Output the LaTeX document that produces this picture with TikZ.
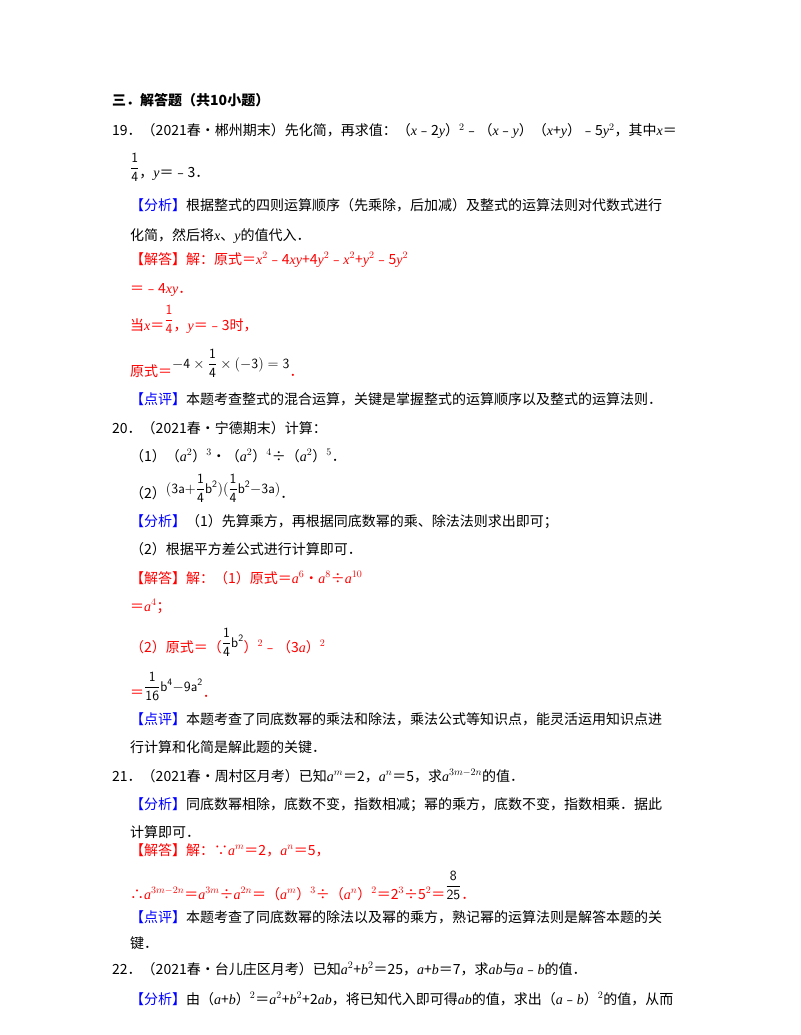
\documentclass[tikz,border=0pt]{standalone}
\usepackage{fontspec}
\setmainfont{Noto Sans CJK SC}
\newfontfamily\serifm{Liberation Serif}
\definecolor{bl}{RGB}{0,0,255}
\definecolor{rd}{RGB}{255,0,0}
\newcommand{\tl}[3]{\node[anchor=base west,inner sep=0pt] (n#1) at (#2pt,-#1pt) {#3};}
\newcommand{\va}[1]{{\serifm\itshape #1}}
\newcommand{\fx}{\textcolor{bl}{【分析】}}
\newcommand{\mydp}{\textcolor{bl}{【点评】}}
\newcommand{\fr}[2]{$\displaystyle\frac{\mathsf{#1}}{\mathsf{#2}}$}
\begin{document}
\begin{tikzpicture}[x=1pt,y=1pt,font=\fontsize{14}{16}\selectfont]
\useasboundingbox (0,0) rectangle (800,-1035);
\tl{106}{112}{\textbf{三．解答题（共10小题）}}
\tl{136}{112}{19．（2021春•郴州期末）先化简，再求值：（\va{x}﹣2\va{y}）$^{2}$﹣（\va{x}﹣\va{y}）（\va{x}+\va{y}）﹣5\va{y}$^2$，其中\va{x}＝}
\tl{178}{130}{\raisebox{6pt}{\fr{1}{4}}，\va{y}＝﹣3．}
\tl{210}{130}{\fx 根据整式的四则运算顺序（先乘除，后加减）及整式的运算法则对代数式进行}
\tl{240}{130}{化简，然后将\va{x}、\va{y}的值代入．}
\tl{264}{130}{\textcolor{rd}{【解答】解：原式＝\va{x}$^2$﹣4\va{xy}+4\va{y}$^2$﹣\va{x}$^2$+\va{y}$^2$﹣5\va{y}$^2$}}
\tl{293}{130}{\textcolor{rd}{＝﹣4\va{xy}．}}
\tl{330}{130}{\textcolor{rd}{当\va{x}＝\raisebox{6pt}{\fr{1}{4}}，\va{y}＝﹣3时，}}
\tl{376}{130}{\textcolor{rd}{原式＝}\raisebox{8pt}{$\mathsf{-4\times\displaystyle\frac{1}{4}\times(-3)=3}$}\textcolor{rd}{．}}
\tl{404}{130}{\mydp 本题考查整式的混合运算，关键是掌握整式的运算顺序以及整式的运算法则．}
\tl{433}{112}{20．（2021春•宁德期末）计算：}
\tl{461}{130}{（1）（\va{a}$^2$）$^3$•（\va{a}$^2$）$^4$÷（\va{a}$^2$）$^5$．}
\tl{498}{130}{（2）\raisebox{5pt}{$\displaystyle\mathsf{(3a{+}\frac{1}{4}b^2)(\frac{1}{4}b^2{-}3a)}$}．}
\tl{526}{130}{\fx（1）先算乘方，再根据同底数幂的乘、除法法则求出即可；}
\tl{554}{130}{（2）根据平方差公式进行计算即可．}
\tl{583}{130}{\textcolor{rd}{【解答】解：（1）原式＝\va{a}$^6$•\va{a}$^8$÷\va{a}$^{10}$}}
\tl{611}{130}{\textcolor{rd}{＝\va{a}$^4$；}}
\tl{652}{130}{\textcolor{rd}{（2）原式＝（}\raisebox{5pt}{$\displaystyle\mathsf{\frac{1}{4}b^2}$}\textcolor{rd}{）$^2$﹣（3\va{a}）$^2$}}
\tl{697}{130}{\textcolor{rd}{＝}\raisebox{6pt}{$\displaystyle\mathsf{\frac{1}{16}b^4{-}9a^2}$}\textcolor{rd}{．}}
\tl{724}{130}{\mydp 本题考查了同底数幂的乘法和除法，乘法公式等知识点，能灵活运用知识点进}
\tl{752}{130}{行计算和化简是解此题的关键．}
\tl{781}{112}{21．（2021春•周村区月考）已知\va{a}$^m$＝2，\va{a}$^n$＝5，求\va{a}$^{3m-2n}$的值．}
\tl{809}{130}{\fx 同底数幂相除，底数不变，指数相减；幂的乘方，底数不变，指数相乘．据此}
\tl{837}{130}{计算即可．}
\tl{855}{130}{\textcolor{rd}{【解答】解：∵\va{a}$^m$＝2，\va{a}$^n$＝5，}}
\tl{899}{130}{\textcolor{rd}{∴\va{a}$^{3m-2n}$＝\va{a}$^{3m}$÷\va{a}$^{2n}$＝（\va{a}$^m$）$^3$÷（\va{a}$^n$）$^2$＝2$^3$÷5$^2$＝}\raisebox{9pt}{\fr{8}{25}}\textcolor{rd}{．}}
\tl{922}{130}{\mydp 本题考查了同底数幂的除法以及幂的乘方，熟记幂的运算法则是解答本题的关}
\tl{948}{130}{键．}
\tl{974}{112}{22．（2021春•台儿庄区月考）已知\va{a}$^2$+\va{b}$^2$＝25，\va{a}+\va{b}＝7，求\va{ab}与\va{a}﹣\va{b}的值．}
\tl{1004}{130}{\fx 由（\va{a}+\va{b}）$^2$＝\va{a}$^2$+\va{b}$^2$+2\va{ab}，将已知代入即可得\va{ab}的值，求出（\va{a}﹣\va{b}）$^2$的值，从而}
\end{tikzpicture}
\end{document}
